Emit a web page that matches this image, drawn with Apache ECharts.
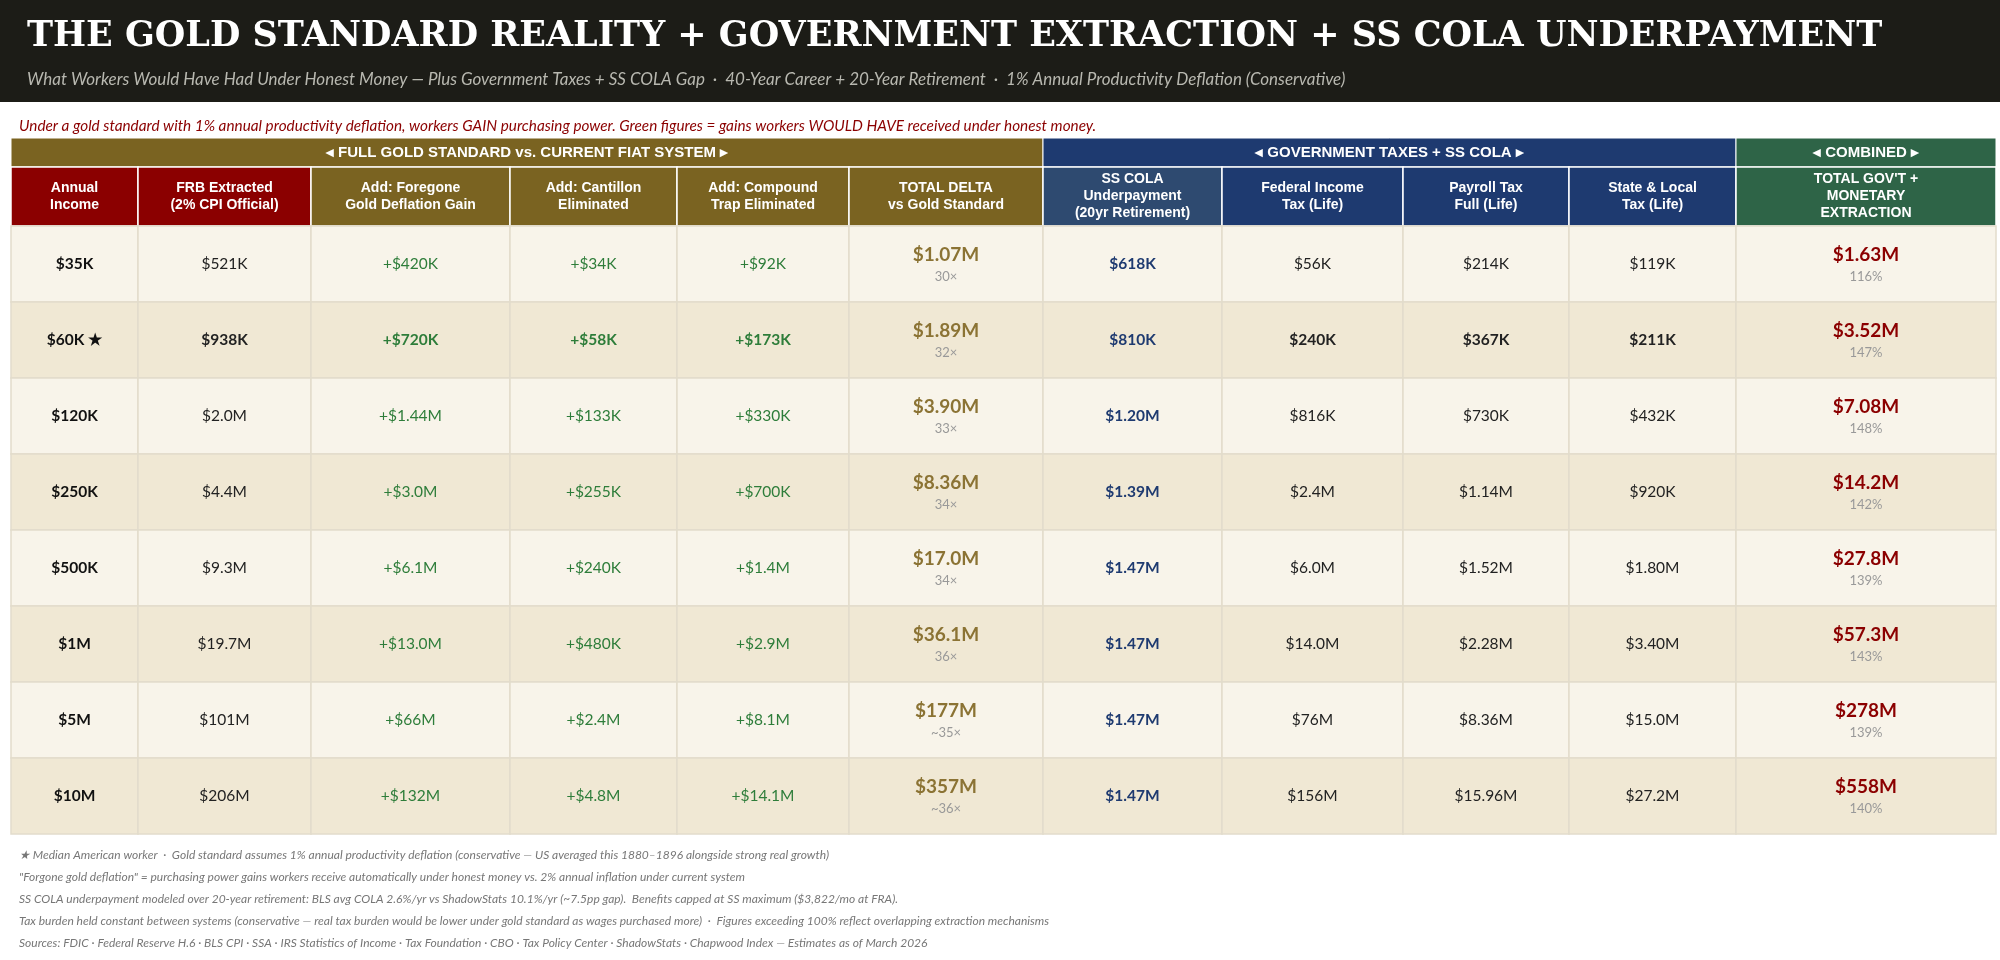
<!DOCTYPE html>
<html>
<head>
<meta charset="utf-8">
<title>Gold Standard Reality</title>
<script src="https://cdn.jsdelivr.net/npm/echarts@6/dist/echarts.min.js"></script>
<style>
  body { margin: 0; background: #fff; }
  #chart { width: 2000px; height: 960px; }
</style>
</head>
<body>
<div id="chart"></div>
<script>
// ---- data ----
const groups = ['◂ FULL GOLD STANDARD vs. CURRENT FIAT SYSTEM ▸', '◂ GOVERNMENT TAXES + SS COLA ▸', '◂ COMBINED ▸'];
const groupSpans = [[0, 5], [6, 9], [10, 10]];
const headers = ['Annual\nIncome', 'FRB Extracted\n(2% CPI Official)', 'Add: Foregone\nGold Deflation Gain',
  'Add: Cantillon\nEliminated', 'Add: Compound\nTrap Eliminated', 'TOTAL DELTA\nvs Gold Standard',
  'SS COLA\nUnderpayment\n(20yr Retirement)', 'Federal Income\nTax (Life)', 'Payroll Tax\nFull (Life)',
  'State & Local\nTax (Life)', "TOTAL GOV'T +\nMONETARY\nEXTRACTION"];
const income = ['$35K', '$60K ★', '$120K', '$250K', '$500K', '$1M', '$5M', '$10M'];
const frb = ['$521K', '$938K', '$2.0M', '$4.4M', '$9.3M', '$19.7M', '$101M', '$206M'];
const foregone = ['+$420K', '+$720K', '+$1.44M', '+$3.0M', '+$6.1M', '+$13.0M', '+$66M', '+$132M'];
const cantillon = ['+$34K', '+$58K', '+$133K', '+$255K', '+$240K', '+$480K', '+$2.4M', '+$4.8M'];
const compound = ['+$92K', '+$173K', '+$330K', '+$700K', '+$1.4M', '+$2.9M', '+$8.1M', '+$14.1M'];
const totalDelta = ['$1.07M', '$1.89M', '$3.90M', '$8.36M', '$17.0M', '$36.1M', '$177M', '$357M'];
const deltaMult = ['30×', '32×', '33×', '34×', '34×', '36×', '~35×', '~36×'];
const ssCola = ['$618K', '$810K', '$1.20M', '$1.39M', '$1.47M', '$1.47M', '$1.47M', '$1.47M'];
const fedTax = ['$56K', '$240K', '$816K', '$2.4M', '$6.0M', '$14.0M', '$76M', '$156M'];
const payroll = ['$214K', '$367K', '$730K', '$1.14M', '$1.52M', '$2.28M', '$8.36M', '$15.96M'];
const stateTax = ['$119K', '$211K', '$432K', '$920K', '$1.80M', '$3.40M', '$15.0M', '$27.2M'];
const combined = ['$1.63M', '$3.52M', '$7.08M', '$14.2M', '$27.8M', '$57.3M', '$278M', '$558M'];
const combinedPct = ['116%', '147%', '148%', '142%', '139%', '143%', '139%', '140%'];
const columns = [income, frb, foregone, cantillon, compound, totalDelta, ssCola, fedTax, payroll, stateTax, combined];
const subs = { 5: deltaMult, 10: combinedPct };
const boldRow = 1;
const footnotes = [
  '★ Median American worker  ·  Gold standard assumes 1% annual productivity deflation (conservative — US averaged this 1880–1896 alongside strong real growth)',
  '"Forgone gold deflation" = purchasing power gains workers receive automatically under honest money vs. 2% annual inflation under current system',
  'SS COLA underpayment modeled over 20-year retirement: BLS avg COLA 2.6%/yr vs ShadowStats 10.1%/yr (~7.5pp gap).  Benefits capped at SS maximum ($3,822/mo at FRA).',
  'Tax burden held constant between systems (conservative — real tax burden would be lower under gold standard as wages purchased more)  ·  Figures exceeding 100% reflect overlapping extraction mechanisms',
  'Sources: FDIC · Federal Reserve H.6 · BLS CPI · SSA · IRS Statistics of Income · Tax Foundation · CBO · Tax Policy Center · ShadowStats · Chapwood Index — Estimates as of March 2026'
];

// ---- layout ----
const colW = [127, 173, 199, 167, 172, 194, 179, 181, 166, 167, 260];
const edges = [0];
colW.forEach(w => edges.push(edges[edges.length - 1] + w));
const GH = 29, CH = 59, RH = 76;
const totalH = GH + CH + RH * income.length;

const headColors = ['#8b0000', '#8b0000', '#7a6321', '#7a6321', '#7a6321', '#7a6321',
  '#2e4a70', '#1e3a70', '#1e3a70', '#1e3a70', '#2e6447'];
const groupColors = ['#7a6321', '#1e3a70', '#2e6447'];
const rowBg = ['#f8f4ea', '#f0e8d4'];
function cellColor(c) {
  if (c >= 2 && c <= 4) return '#2e7d3a';
  if (c === 5) return '#8b7334';
  if (c === 6) return '#1e3a70';
  if (c === 10) return '#8b0000';
  return c === 0 ? '#111' : '#222';
}

const groupData = groupSpans.map((s, i) => [edges[s[0]], edges[s[1] + 1], 0, GH, i]);
const headData = headers.map((h, c) => [edges[c], edges[c + 1], GH, GH + CH, c]);
const cellData = [];
income.forEach((_, r) => columns.forEach((col, c) => {
  cellData.push([edges[c], edges[c + 1], GH + CH + r * RH, GH + CH + (r + 1) * RH, c, r]);
}));

function box(api) {
  const p0 = api.coord([api.value(0), api.value(2)]);
  const p1 = api.coord([api.value(1), api.value(3)]);
  return { x: p0[0], y: p0[1], w: p1[0] - p0[0], h: p1[1] - p0[1] };
}

const chart = echarts.init(document.getElementById('chart'));
chart.setOption({
  animation: false,
  graphic: [{ type: 'rect', left: 0, top: 0, shape: { width: 2000, height: 102 }, style: { fill: '#1c1c17' } }],
  title: [
    { text: 'THE GOLD STANDARD REALITY + GOVERNMENT EXTRACTION + SS COLA UNDERPAYMENT', left: 22, top: 14,
      textStyle: { color: '#fff', fontFamily: 'DejaVu Serif', fontWeight: 'bold', fontSize: 35 } },
    { text: 'What Workers Would Have Had Under Honest Money — Plus Government Taxes + SS COLA Gap  ·  40-Year Career + 20-Year Retirement  ·  1% Annual Productivity Deflation (Conservative)',
      left: 22, top: 66, textStyle: { color: '#b8b8b0', fontFamily: 'Lato', fontStyle: 'italic', fontWeight: 'normal', fontSize: 17 } },
    { text: 'Under a gold standard with 1% annual productivity deflation, workers GAIN purchasing power. Green figures = gains workers WOULD HAVE received under honest money.',
      left: 14, top: 114, textStyle: { color: '#8b0000', fontFamily: 'Lato', fontStyle: 'italic', fontWeight: 'normal', fontSize: 15.3 } }
  ].concat(footnotes.map((t, i) => ({
    text: t, left: 14, top: 844 + i * 22,
    textStyle: { color: '#777', fontFamily: 'Lato', fontStyle: 'italic', fontWeight: 'normal', fontSize: 12 }
  }))),
  grid: { left: 11, right: 4, top: 138, bottom: 960 - 138 - totalH },
  xAxis: { type: 'value', min: 0, max: edges[edges.length - 1], show: false },
  yAxis: { type: 'value', min: 0, max: totalH, inverse: true, show: false },
  series: [
    {
      type: 'custom', data: groupData,
      renderItem: (params, api) => {
        const b = box(api); const i = api.value(4);
        return { type: 'group', children: [
          { type: 'rect', shape: { x: b.x, y: b.y, width: b.w, height: b.h }, style: { fill: groupColors[i], stroke: '#fff', lineWidth: 1 } },
          { type: 'text', style: { x: b.x + b.w / 2, y: b.y + b.h / 2, text: groups[i], fill: '#fff', align: 'center', verticalAlign: 'middle',
            font: 'bold 15px "Liberation Sans", Arial' } }
        ] };
      }
    },
    {
      type: 'custom', data: headData,
      renderItem: (params, api) => {
        const b = box(api); const c = api.value(4);
        return { type: 'group', children: [
          { type: 'rect', shape: { x: b.x, y: b.y, width: b.w, height: b.h }, style: { fill: headColors[c], stroke: '#fff', lineWidth: 1.5 } },
          { type: 'text', style: { x: b.x + b.w / 2, y: b.y + b.h / 2, text: headers[c], fill: '#fff', align: 'center', verticalAlign: 'middle',
            font: 'bold 14px "Liberation Sans", Arial', lineHeight: 17 } }
        ] };
      }
    },
    {
      type: 'custom', data: cellData,
      renderItem: (params, api) => {
        const b = box(api); const c = api.value(4); const r = api.value(5);
        const big = c === 5 || c === 10;
        const bold = r === boldRow || c === 0 || c === 6 || big;
        const kids = [
          { type: 'rect', shape: { x: b.x, y: b.y, width: b.w, height: b.h }, style: { fill: rowBg[r % 2], stroke: '#e2dccb', lineWidth: 1.5 } },
          { type: 'text', style: { x: b.x + b.w / 2, y: b.y + b.h / 2 - (big ? 9 : 0), text: columns[c][r], fill: cellColor(c),
            align: 'center', verticalAlign: 'middle', font: (bold ? 'bold ' : '') + (big ? 19 : 15.5) + 'px Lato' } }
        ];
        if (subs[c]) kids.push({ type: 'text', style: { x: b.x + b.w / 2, y: b.y + b.h / 2 + 13, text: subs[c][r], fill: '#999',
          align: 'center', verticalAlign: 'middle', font: '13px Lato' } });
        return { type: 'group', children: kids };
      }
    }
  ]
});
</script>
</body>
</html>
